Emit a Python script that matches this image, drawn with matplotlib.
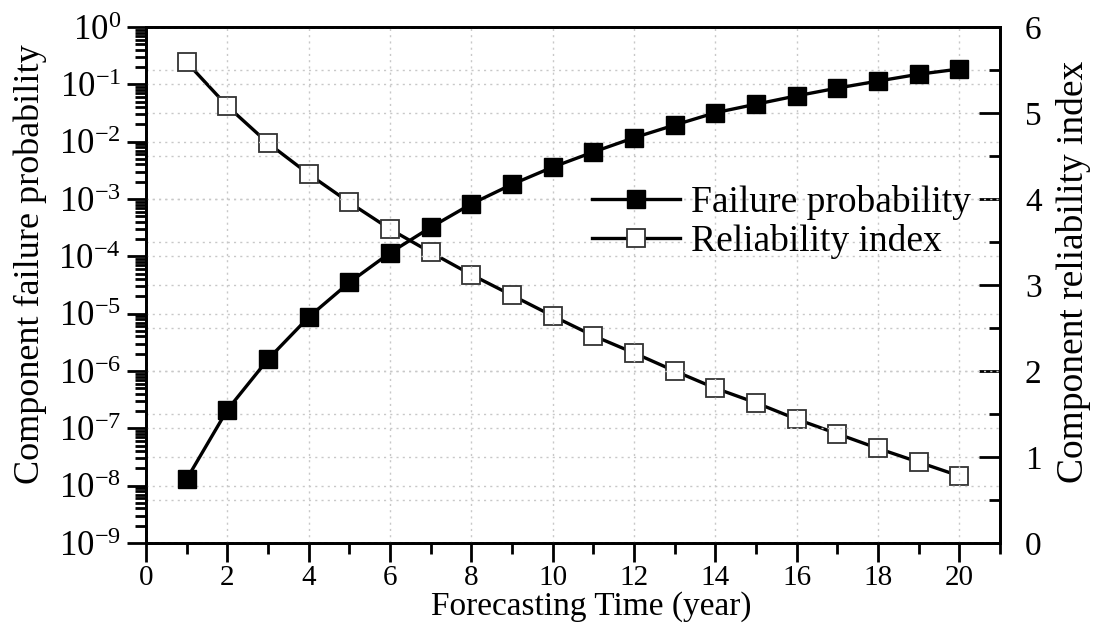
import numpy as np
import matplotlib
matplotlib.use("Agg")
import matplotlib.pyplot as plt
from matplotlib.ticker import LogLocator, MultipleLocator, NullFormatter

plt.rcParams['font.family'] = 'Liberation Serif'
plt.rcParams['mathtext.fontset'] = 'custom'
plt.rcParams['mathtext.rm'] = 'Liberation Serif'
plt.rcParams['mathtext.it'] = 'Liberation Serif'

# Data
years = [1, 2, 3, 4, 5, 6, 7, 8, 9, 10, 11, 12, 13, 14, 15, 16, 17, 18, 19, 20]
failure_prob = [1.3e-8, 2.1e-7, 1.6e-6, 8.7e-6, 3.5e-5, 1.15e-4, 3.2e-4, 8.2e-4, 1.8e-3, 3.6e-3,
                6.6e-3, 1.17e-2, 1.95e-2, 3.2e-2, 4.5e-2, 6.3e-2, 8.6e-2, 0.114, 0.15, 0.185]
reliability = [5.59, 5.08, 4.65, 4.29, 3.96, 3.65, 3.38, 3.12, 2.88, 2.64,
               2.41, 2.21, 2.00, 1.80, 1.63, 1.44, 1.27, 1.10, 0.94, 0.78]

fig = plt.figure(figsize=(11.01, 6.28), dpi=100)
ax = fig.add_axes([146/1101, 1 - 543/628, (1000-146)/1101, (543-27)/628])
ax2 = ax.twinx()
ax.set_zorder(ax2.get_zorder() + 1)
ax.patch.set_visible(False)

grid_kw = dict(color='#c8c8c8', linestyle=(0, (1.5, 3)), linewidth=1.0)

l1, = ax.plot(years, failure_prob, color='black', lw=2.4, marker='s', ms=13,
              mfc='black', mec='black', label='Failure probability')
l2, = ax2.plot(years, reliability, color='black', lw=2.4, marker='s', ms=13,
               mfc='white', mec='#333333', mew=1.3, label='Reliability index')

ax.set_yscale('log')
ax.set_ylim(1e-9, 1e0)
ax.set_xlim(0, 21)
ax2.set_ylim(0, 6)

ax.yaxis.set_major_locator(LogLocator(base=10, numticks=20))
ax.yaxis.set_minor_locator(LogLocator(base=10, subs=np.arange(2, 10), numticks=100))
ax.yaxis.set_minor_formatter(NullFormatter())
ax.xaxis.set_major_locator(MultipleLocator(2))
ax.xaxis.set_minor_locator(MultipleLocator(1))
ax2.yaxis.set_major_locator(MultipleLocator(1))
ax2.yaxis.set_minor_locator(MultipleLocator(0.5))

ax.grid(which='major', axis='both', **grid_kw)
ax2.grid(which='both', axis='y', **grid_kw)

# left / bottom ticks point out
ax.tick_params(axis='both', which='major', direction='out', length=14, width=2,
               top=False, right=False)
ax.tick_params(axis='x', which='major', labelsize=21, pad=2)
ax.tick_params(axis='y', which='major', labelsize=25, pad=4)
ax.tick_params(axis='both', which='minor', direction='out', length=8, width=2,
               top=False, right=False)

# right / top ticks point in
ax2.tick_params(axis='y', which='major', direction='in', length=15, width=2,
                labelsize=24, pad=18)
ax2.tick_params(axis='y', which='minor', direction='in', length=8, width=2)
ax2.tick_params(axis='x', which='major', direction='in', length=15, width=2,
                top=True, bottom=False, labeltop=False, labelbottom=False)
ax2.tick_params(axis='x', which='minor', direction='in', length=8, width=2,
                top=True, bottom=False)

for a in (ax, ax2):
    for s in a.spines.values():
        s.set_linewidth(2)

ax.set_xlabel('Forecasting Time (year)', fontsize=24)
ax.xaxis.set_label_coords(0.521, -0.14)
ax.xaxis.label.set_va('baseline')
ax.set_ylabel('Component failure probability', fontsize=26, labelpad=8, y=0.54)
ax2.set_ylabel('Component reliability index', fontsize=27, labelpad=10, y=0.525)

ax.legend(handles=[l1, l2], loc='upper left', bbox_to_anchor=(0.522, 0.694),
          frameon=False, fontsize=27, handlelength=2.35, handletextpad=0.3,
          labelspacing=0.12, borderpad=0, borderaxespad=0)

fig.savefig('out.png', dpi=100)
